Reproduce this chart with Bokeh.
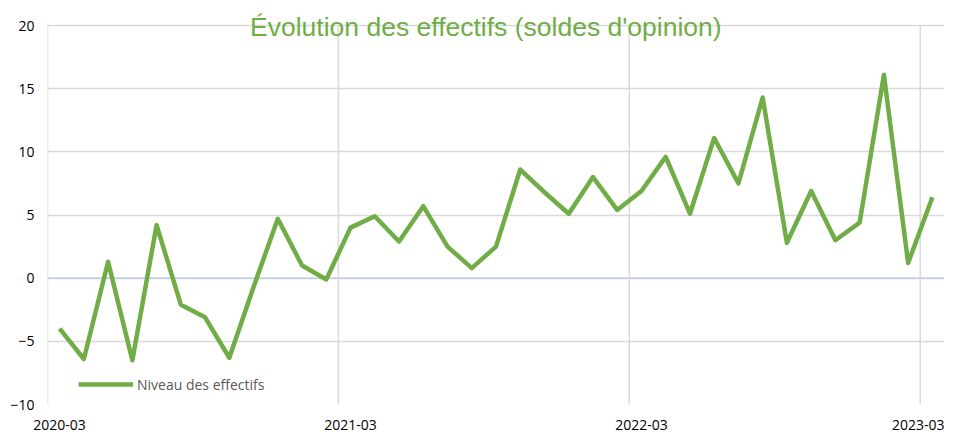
from bokeh.plotting import figure
from bokeh.models import ColumnDataSource, FixedTicker, Label, Span, Legend, LegendItem, Range1d
from bokeh.embed import file_html
from bokeh.resources import INLINE

# ---- data ----
months = [
    "2020-03", "2020-04", "2020-05", "2020-06", "2020-07", "2020-08", "2020-09",
    "2020-10", "2020-11", "2020-12", "2021-01", "2021-02", "2021-03", "2021-04",
    "2021-05", "2021-06", "2021-07", "2021-08", "2021-09", "2021-10", "2021-11",
    "2021-12", "2022-01", "2022-02", "2022-03", "2022-04", "2022-05", "2022-06",
    "2022-07", "2022-08", "2022-09", "2022-10", "2022-11", "2022-12", "2023-01",
    "2023-02", "2023-03",
]
effectifs = [
    -4.0, -6.4, 1.3, -6.5, 4.2, -2.1, -3.1,
    -6.3, -0.7, 4.7, 1.0, -0.1, 4.0, 4.9,
    2.9, 5.7, 2.5, 0.8, 2.5, 8.6, 6.8,
    5.1, 8.0, 5.4, 6.9, 9.6, 5.1, 11.1,
    7.5, 14.3, 2.8, 6.9, 3.0, 4.4, 16.1,
    1.2, 6.4,
]
tick_labels = ["2020-03", "2021-03", "2022-03", "2023-03"]
y_ticks = [-10, -5, 0, 5, 10, 15, 20]
title_text = "Évolution des effectifs (soldes d'opinion)"
series_name = "Niveau des effectifs"

GREEN = "#70AD47"
GRID = "#D9D9D9"

# month positions: each month occupies one unit, points sit mid-month
xs = [i + 0.5 for i in range(len(months))]
src = ColumnDataSource(dict(x=xs, y=effectifs, month=months))

tick_pos = [months.index(t) for t in tick_labels]
label_pos = [p + 0.5 for p in tick_pos]

# plot area geometry: value axis spans 379 px; 20 px of headroom above it
# keeps the title (drawn inside the frame) from being clipped
y_lo, y_hi = y_ticks[0], y_ticks[-1]
px_per_unit = 379.0 / (y_hi - y_lo)
head = 20.0 / px_per_unit

p = figure(width=944, height=432, output_backend="svg", toolbar_location=None,
           x_range=Range1d(0, len(months)), y_range=Range1d(y_lo, y_hi + head),
           min_border_left=47, min_border_right=0, min_border_top=5,
           min_border_bottom=28)
p.outline_line_color = None
p.background_fill_color = "white"
p.border_fill_color = "white"

# vertical gridlines limited to the value axis extent
n = len(tick_pos)
p.segment(x0=tick_pos, x1=tick_pos, y0=[y_lo] * n, y1=[y_hi] * n,
          line_color=GRID, line_width=1.5)

zero = Span(location=0, dimension="width", line_color="#B4C7E7",
            line_width=1.2, level="underlay")
p.add_layout(zero)

r = p.line("x", "y", source=src, line_color=GREEN, line_width=4.5,
           line_join="round")

# axes
p.xaxis.ticker = FixedTicker(ticks=label_pos)
p.xaxis.major_label_overrides = {lp: t for lp, t in zip(label_pos, tick_labels)}
p.yaxis.ticker = FixedTicker(ticks=y_ticks)
for ax in (p.xaxis[0], p.yaxis[0]):
    ax.axis_line_color = None
    ax.major_tick_line_color = None
    ax.minor_tick_line_color = None
    ax.major_tick_out = 0
    ax.major_tick_in = 0
    ax.minor_tick_out = 0
    ax.major_label_text_font = "Open Sans"
    ax.major_label_text_font_size = "14px"
    ax.major_label_text_color = "#000000"
p.yaxis.major_label_standoff = 13
p.xaxis.major_label_standoff = 15

# grids
p.xgrid.visible = False
p.ygrid.ticker = FixedTicker(ticks=y_ticks)
p.ygrid.grid_line_color = GRID
p.ygrid.grid_line_width = 1.5

# title drawn over the plot area
title = Label(x=18.08, y=19.9, text=title_text, text_align="center",
              text_baseline="alphabetic", text_color=GREEN,
              text_font="Liberation Sans", text_font_size="26.5px")
p.add_layout(title)

# legend
legend = Legend(items=[LegendItem(label=series_name, renderers=[r])],
                location=(31, 10), orientation="horizontal",
                border_line_color=None, background_fill_alpha=0,
                label_text_font="Open Sans", label_text_font_size="14px",
                label_text_color="#595959", glyph_width=55, glyph_height=20,
                label_standoff=4, padding=0, margin=0, spacing=0)
p.add_layout(legend)

open("out.html", "w").write(file_html(p, INLINE))
